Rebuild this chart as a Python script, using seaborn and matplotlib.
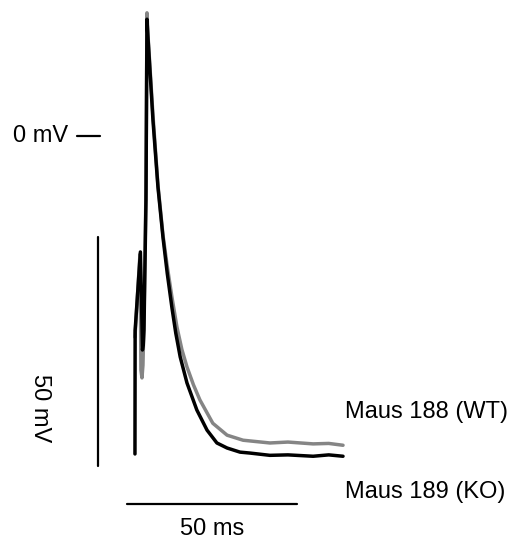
import matplotlib
matplotlib.use('Agg')
import numpy as np
import pandas as pd
import matplotlib.pyplot as plt
import seaborn as sns

# Aktionspotentiale, Zeit in ms, Spannung in mV
t_wt = [0.0, 1.47, 1.6, 1.76, 2.06, 2.35, 2.65, 3.24, 3.53, 3.82, 5.29, 6.76, 8.24,
        9.41, 10.88, 12.35, 13.8, 15.3, 17.2, 19.1, 22.9, 27.1, 31.8, 39.7, 45.0, 52.4, 57.0, 61.2]
v_wt = [-43.9, -25.8, -35.8, -51.1, -52.8, -50.0, -40.2, -11.8, 26.9, 22.1, 4.6, -10.7, -21.6,
        -28.0, -35.2, -41.7, -46.6, -50.4, -54.3, -57.6, -62.7, -65.3, -66.4, -67.0, -66.8, -67.2, -67.1, -67.5]

t_ko = [0.0, 0.05, 1.6, 1.9, 2.2, 2.45, 2.65, 3.24, 3.53, 3.82, 5.29, 6.76, 8.24,
        9.5, 10.88, 12.0, 13.3, 15.3, 18.2, 21.2, 24.1, 27.1, 30.9, 33.8, 39.7, 45.0, 52.4, 57.0, 61.2]
v_ko = [-69.4, -42.4, -25.3, -35.0, -46.7, -45.5, -42.4, -14.0, 25.5, 21.6, 3.5, -11.1, -22.1,
        -30.0, -37.5, -43.0, -48.2, -53.9, -59.8, -64.2, -67.0, -68.1, -69.0, -69.2, -69.7, -69.6, -69.9, -69.6, -69.9]

labels = ['Maus 188 (WT)', 'Maus 189 (KO)']
colors = ['#858585', '#000000']

df = pd.concat([
    pd.DataFrame({'t': t_wt, 'v': v_wt, 'maus': labels[0]}),
    pd.DataFrame({'t': t_ko, 'v': v_ko, 'maus': labels[1]}),
])

sns.set_style('white')
plt.rcParams['font.family'] = ['Liberation Sans', 'DejaVu Sans']
plt.rcParams['text.color'] = 'black'

fig = plt.figure(figsize=(5.13, 5.41), dpi=100)
ax = fig.add_axes([0, 0, 1, 1])
sns.lineplot(data=df, x='t', y='v', hue='maus', palette=dict(zip(labels, colors)),
             estimator=None, sort=False, lw=2.5, legend=False, ax=ax)

ax.set_xlim(-39.7, 111.2)
ax.set_ylim(-88.4, 29.7)
ax.axis('off')

# Skalenbalken
ax.plot([-10.9, -10.9], [-22.05, -72.05], color='black', lw=1.6)
ax.plot([-2.35, 47.65], [-80.3, -80.3], color='black', lw=1.6)
ax.plot([-17.1, -10.3], [0, 0], color='black', lw=1.6)

fs = 17
ax.text(-19.8, 0, '0 mV', ha='right', va='center', fontsize=fs)
ax.text(-28.0, -59.5, '50 mV', ha='center', va='center', rotation=-90, fontsize=fs)
ax.text(22.6, -85.8, '50 ms', ha='center', va='center', fontsize=fs)
ax.text(61.8, -60.3, labels[0], ha='left', va='center', fontsize=fs)
ax.text(61.8, -77.8, labels[1], ha='left', va='center', fontsize=fs)

plt.savefig('out.png', dpi=100)
